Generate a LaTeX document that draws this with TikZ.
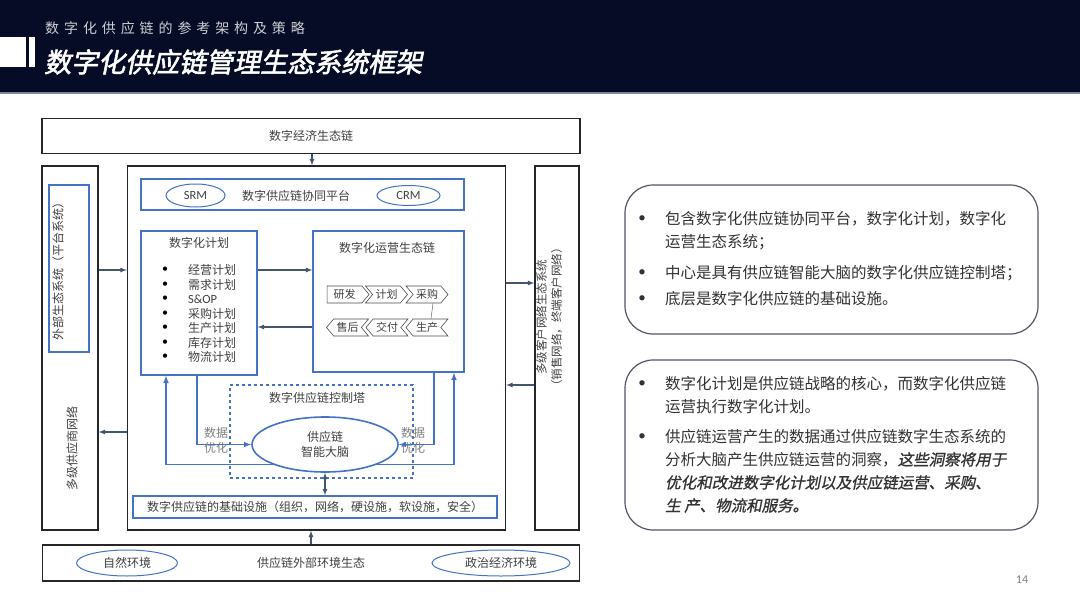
\documentclass[tikz,border=0pt]{standalone}
\usepackage{fontspec}
\setmainfont{Noto Sans CJK SC}
\newfontfamily\latinfont{Carlito}
\newfontfamily\headfont{Noto Sans CJK SC}[LetterSpace=35]
\newfontfamily\titlefont{Noto Sans CJK SC}[FakeSlant=0.2,FakeBold=2]
\newfontfamily\slfont{Noto Sans CJK SC}[FakeSlant=0.2,FakeBold=1]
\usepackage{tikz}
\usetikzlibrary{arrows, positioning, calc, shapes.geometric, shapes.symbols}

\definecolor{navy}{RGB}{6,12,38}
\definecolor{boxblue}{RGB}{68,114,196}
\definecolor{slate}{RGB}{68,84,106}
\definecolor{txtgray}{RGB}{64,64,64}
\definecolor{panelline}{RGB}{80,86,100}

\tikzset{
  blackbox/.style={rectangle, draw=black!85, line width=1.4pt, inner sep=0pt},
  bluebox/.style={rectangle, draw=boxblue, line width=1.4pt, inner sep=0pt},
  oval/.style={ellipse, draw=boxblue, line width=1pt, inner sep=0pt},
  lbl/.style={text=txtgray, font=\fontsize{12}{15}\selectfont, inner sep=0pt, align=center},
  link/.style={->, >=latex, draw=slate, line width=1.2pt},
  feed/.style={->, >=latex, draw=boxblue, line width=1.5pt},
  chev/.style={signal, draw=black!70, line width=0.6pt, minimum height=17pt, minimum width=42pt,
    inner sep=0pt, signal pointer angle=100, text=txtgray, font=\fontsize{11}{12}\selectfont},
  panel/.style={rectangle, rounded corners=28pt, draw=panelline, line width=1.2pt},
  pnote/.style={anchor=north west, align=left, inner sep=0pt, text=black!80, font=\fontsize{15.5}{23}\selectfont},
  pdot/.style={inner sep=0pt, text=black!80, font=\latinfont\fontsize{15}{16}\selectfont},
}

\begin{document}
\begin{tikzpicture}[x=1pt, y=-1pt]
    \useasboundingbox (0,0) rectangle (1080,608);
    \fill[white] (0,0) rectangle (1080,608);
    \fill[navy] (0,0) rectangle (1080,93);
    \fill[slate!70] (0,92) rectangle (1080,94);
    \fill[white] (0,37) rectangle (26,67);
    \fill[white] (29,37) rectangle (35,67);
    \node[anchor=west, text=white!80!navy, inner sep=0pt, font=\headfont\fontsize{14}{16}\selectfont] (subtitle) at (45,28) {数字化供应链的参考架构及策略};
    \node[anchor=west, text=white, inner sep=0pt, font=\titlefont\fontsize{27}{30}\selectfont] (title) at (44,62) {数字化供应链管理生态系统框架};

    \node[blackbox, minimum width=538pt, minimum height=35pt, lbl] (digeco) at (311,136) {数字经济生态链};
    \node[blackbox, minimum width=56pt, minimum height=364pt] (supnet) at (70,348) {};
    \node[bluebox, minimum width=40pt, minimum height=167pt] (platsys) at (69,268.5) {};
    \node[lbl, rotate=90] (platsystext) at (58,268) {外部生态系统（平台系统）};
    \node[lbl, rotate=90] (supnettext) at (72,448) {多级供应商网络};
    \node[blackbox, minimum width=378pt, minimum height=364pt] (core) at (316.5,348) {};
    \node[blackbox, minimum width=44pt, minimum height=364pt] (custnet) at (557,348) {};
    \node[lbl, rotate=90, font=\fontsize{11.5}{15}\selectfont] (custnettext) at (549,317) {多级客户网络生态系统\\（销售网络，终端客户网络）};
    \node[blackbox, minimum width=537pt, minimum height=36pt] (envbox) at (311,563) {};
    \node[lbl] (envtext) at (311,563) {供应链外部环境生态};
    \node[oval, minimum width=101pt, minimum height=26pt, lbl] (nat) at (127,563) {自然环境};
    \node[oval, minimum width=138pt, minimum height=26pt, lbl] (pol) at (501,563) {政治经济环境};

    \node[bluebox, minimum width=323pt, minimum height=31pt] (platform) at (302.5,194.5) {};
    \node[oval, minimum width=59pt, minimum height=23pt, text=txtgray, font=\latinfont\fontsize{12.5}{14}\selectfont] (srm) at (195.5,195.5) {SRM};
    \node[lbl] (platformtext) at (296,196) {数字供应链协同平台};
    \node[oval, minimum width=63pt, minimum height=20pt, text=txtgray, font=\latinfont\fontsize{12.5}{14}\selectfont] (crm) at (408.5,195.5) {CRM};

    \node[bluebox, minimum width=116pt, minimum height=144pt] (plan) at (199,303) {};
    \node[lbl] (plantitle) at (199,243) {数字化计划};
    \foreach \t [count=\i] in {经营计划,需求计划,{\latinfont\fontsize{12.5}{14}\selectfont S\&OP},采购计划,生产计划,库存计划,物流计划} {
        \node[lbl, text=black, font=\latinfont\fontsize{12}{14}\selectfont] (dot\i) at (165,255.5+14.5*\i) {\textbullet};
        \node[lbl, anchor=west] (item\i) at (188,255.5+14.5*\i) {\t};
    }

    \node[bluebox, minimum width=151pt, minimum height=141pt] (ops) at (388.5,301.5) {};
    \node[lbl] (opstitle) at (387,248) {数字化运营生态链};
    \node[chev, signal to=east, signal from=nowhere] (yf) at (344.5,294.5) {研发};
    \node[chev, signal to=east, signal from=west] (jh) at (386.5,294.5) {计划};
    \node[chev, signal to=east, signal from=west] (cg) at (427,294.5) {采购};
    \node[chev, signal to=west, signal from=east] (sh) at (347.5,327.5) {售后};
    \node[chev, signal to=west, signal from=east] (jf) at (387,327.5) {交付};
    \node[chev, signal to=west, signal from=east] (sc) at (427,327.5) {生产};
    \draw[black!60, line width=0.5pt] ([xshift=6pt]cg.south) -- ([xshift=4pt]sc.north);

    \node[rectangle, draw=boxblue, dashed, line width=1.4pt, minimum width=183pt, minimum height=93pt] (tower) at (321.5,431.5) {};
    \node[lbl] (towertitle) at (317,398) {数字供应链控制塔};
    \node[oval, line width=1.6pt, minimum width=146pt, minimum height=55pt, lbl] (brain) at (325,444.5) {供应链\\智能大脑};
    \node[lbl, text=black!50] (datal) at (216,440) {数据\\优化};
    \node[lbl, text=black!50] (datar) at (413,440) {数据\\优化};
    \node[bluebox, minimum width=364pt, minimum height=22pt, lbl] (infra) at (315,507) {数字供应链的基础设施（组织，网络，硬设施，软设施，安全）};

    \draw[link] (digeco.south -| 312,0) -- (core.north -| 312,0);
    \draw[link] (supnet.east |- 0,270) -- (core.west |- 0,270);
    \draw[link] (core.west |- 0,432) -- (supnet.east |- 0,432);
    \draw[link] (core.east |- 0,283) -- (custnet.west |- 0,283);
    \draw[link] (custnet.west |- 0,385) -- (core.east |- 0,385);
    \draw[link] (envbox.north -| 311,0) -- (core.south -| 311,0);
    \draw[link] (plan.east |- 0,270) -- (ops.west |- 0,270);
    \draw[link] (ops.west |- 0,327) -- (plan.east |- 0,327);
    \draw[feed] (plan.south -| 197,0) |- (brain.west);
    \draw[feed] (brain.south west) -| (plan.south -| 166,0);
    \draw[feed] (ops.south -| 434,0) |- (brain.east);
    \draw[feed] (brain.south east) -| (ops.south -| 454,0);
    \draw[link, <->] (brain.south) -- (infra.north -| brain.south);

    \node[panel, minimum width=413pt, minimum height=149pt] (panel1) at (831.5,259.5) {};
    \node[pdot] (b1) at (642,219) {\textbullet};
    \node[pnote] (n1) at (665,211) {包含数字化供应链协同平台，数字化计划，数字化\\运营生态系统；};
    \node[pdot] (b2) at (642,273) {\textbullet};
    \node[pnote] (n2) at (665,265) {中心是具有供应链智能大脑的数字化供应链控制塔；};
    \node[pdot] (b3) at (642,299) {\textbullet};
    \node[pnote] (n3) at (665,291) {底层是数字化供应链的基础设施。};

    \node[panel, minimum width=413pt, minimum height=170pt] (panel2) at (831.5,445) {};
    \node[pdot] (b4) at (642,384) {\textbullet};
    \node[pnote] (n4) at (665,376) {数字化计划是供应链战略的核心，而数字化供应链\\运营执行数字化计划。};
    \node[pdot] (b5) at (642,437) {\textbullet};
    \node[pnote] (n5) at (665,429) {供应链运营产生的数据通过供应链数字生态系统的\\分析大脑产生供应链运营的洞察，{\slfont 这些洞察将用于}\\{\slfont 优化和改进数字化计划以及供应链运营、采购、}\\{\slfont 生 产、物流和服务。}};

    \node[text=black!50, inner sep=0pt, font=\latinfont\fontsize{12}{14}\selectfont] (pageno) at (1022,580) {14};
\end{tikzpicture}
\end{document}
